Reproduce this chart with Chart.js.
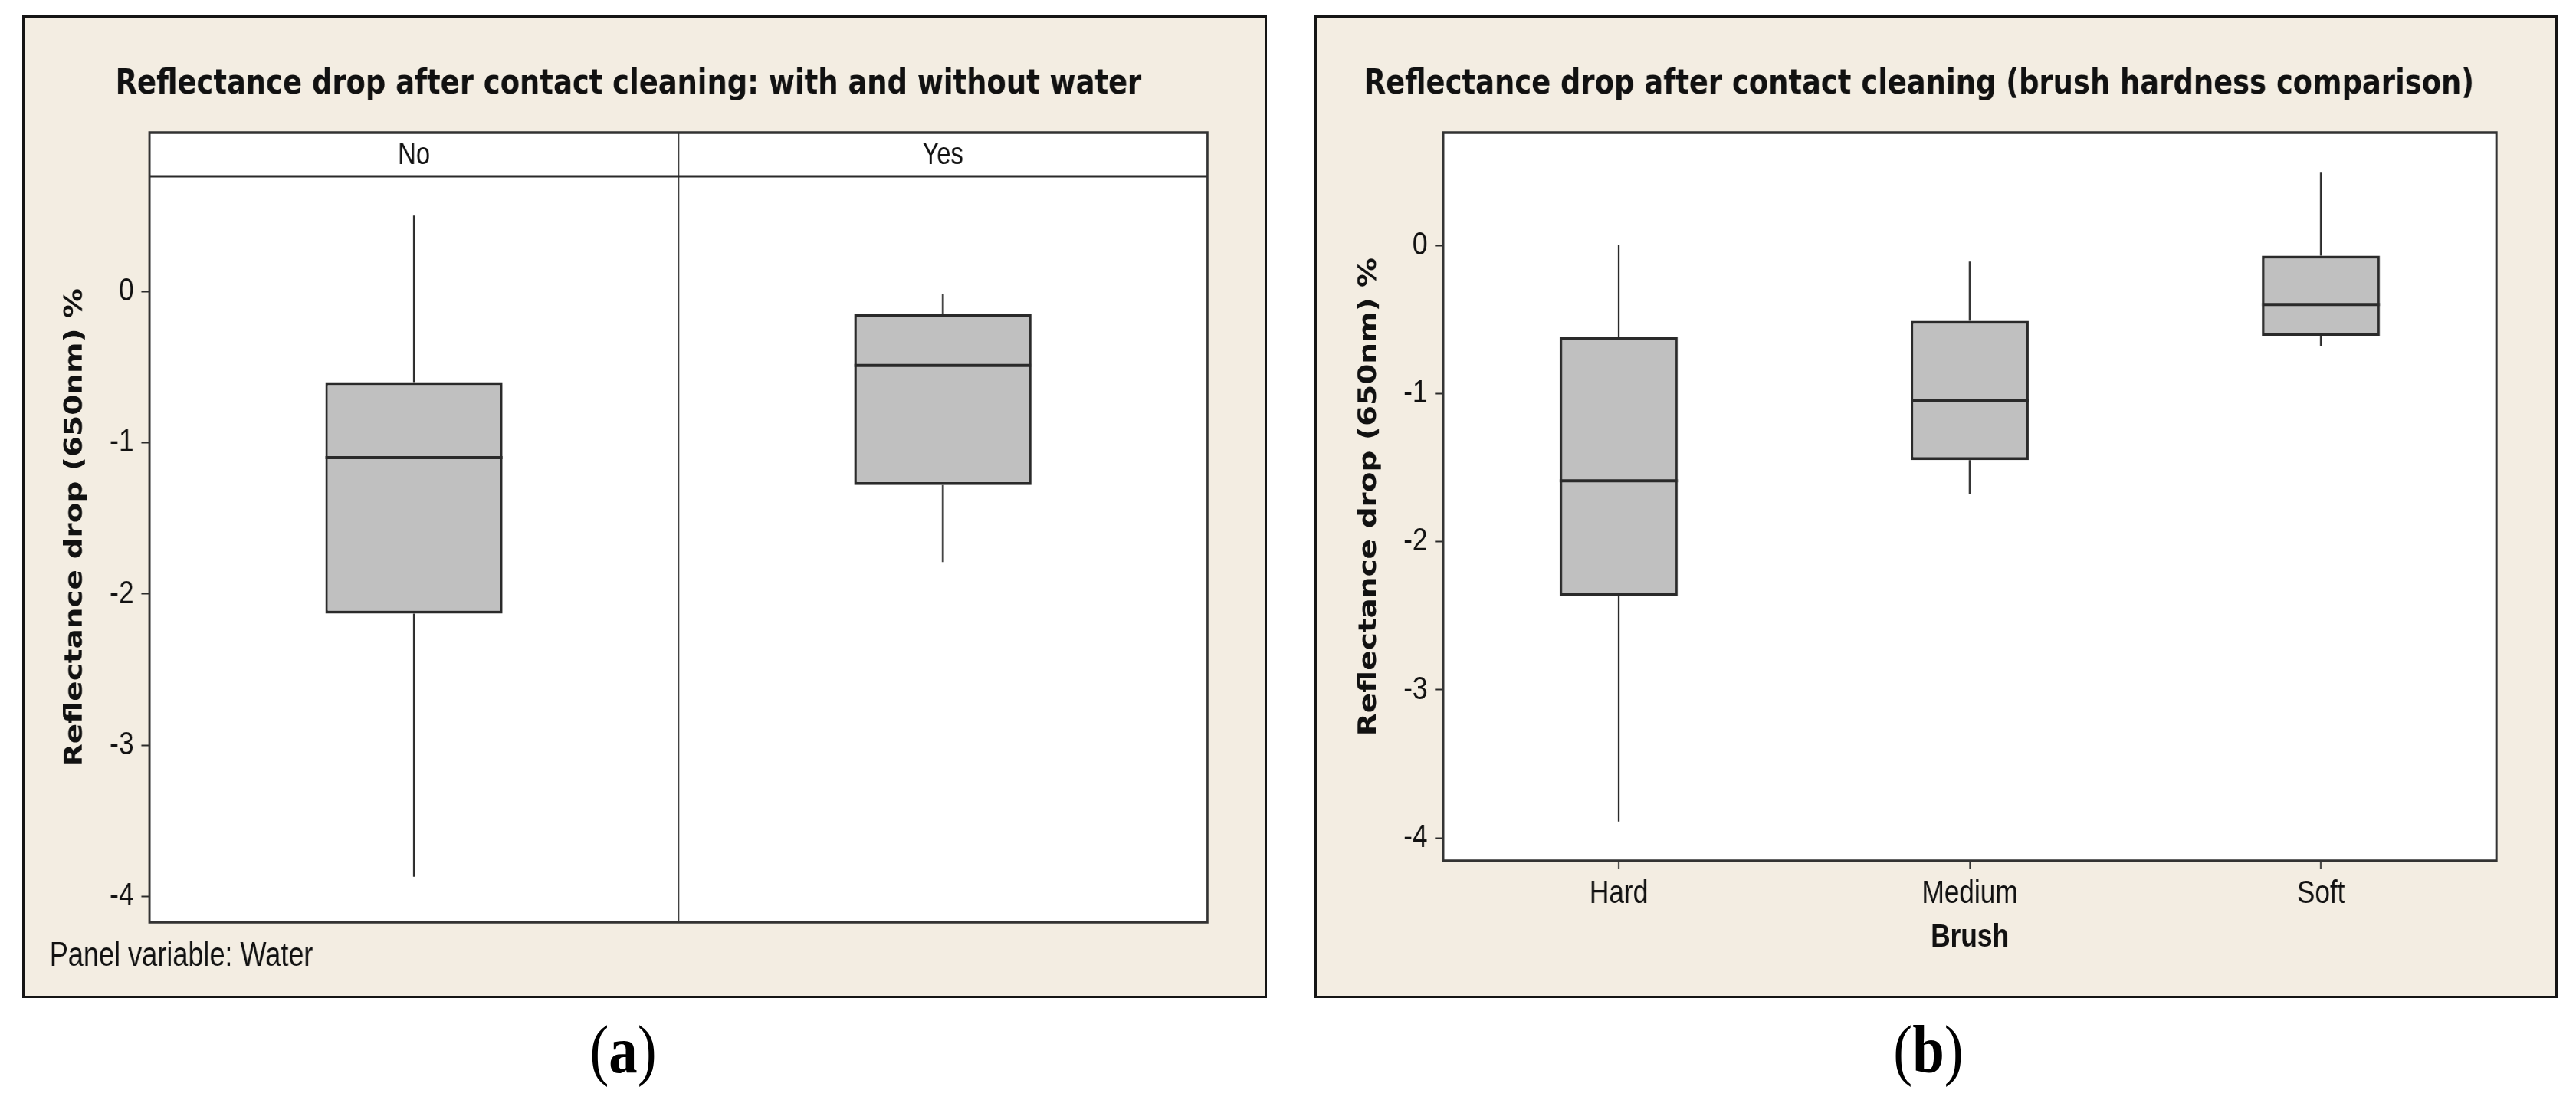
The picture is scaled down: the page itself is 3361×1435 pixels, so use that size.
<!DOCTYPE html>
<html>
<head>
<meta charset="utf-8">
<script src="https://cdn.jsdelivr.net/npm/chart.js@4.4.1/dist/chart.umd.min.js"></script>
<style>
  body { margin: 0; background: #fff; width: 3361px; height: 1435px; position: relative; overflow: hidden; }
  .frame { position: absolute; top: 20px; height: 1282px; box-sizing: border-box; border: 3px solid #151515; background: #f3ede2; }
  .wrap { position: absolute; left: 0; top: 0; transform: scaleX(0.82); transform-origin: 0 0; }
  .cap { position: absolute; top: 1326px; width: 400px; text-align: center; font-family: 'Liberation Serif', serif; font-size: 88px; line-height: 88px; color: #000; transform: scaleX(0.85); }
  .cap b { font-weight: bold; }
</style>
</head>
<body>
<div class="frame" style="left:29px;width:1624px"><div class="wrap"><canvas id="chartA" width="1973" height="1276"></canvas></div></div>
<div class="frame" style="left:1715px;width:1622px"><div class="wrap"><canvas id="chartB" width="1971" height="1276"></canvas></div></div>
<div class="cap" style="left:613px">(<b>a</b>)</div>
<div class="cap" style="left:2316px">(<b>b</b>)</div>
<script>
// panel (a): water / no water
const waterGroups = ['No', 'Yes'];
const waterMin = [-3.87, -1.79];
const waterQ1 = [-2.13, -1.28];
const waterMedian = [-1.10, -0.49];
const waterQ3 = [-0.60, -0.15];
const waterMax = [0.50, -0.02];

// panel (b): brush hardness
const brushGroups = ['Hard', 'Medium', 'Soft'];
const brushMin = [-3.89, -1.68, -0.68];
const brushQ1 = [-2.37, -1.45, -0.61];
const brushMedian = [-1.59, -1.05, -0.40];
const brushQ3 = [-0.62, -0.51, -0.07];
const brushMax = [0.00, -0.11, 0.49];

const yTicks = [-4, -3, -2, -1, 0];
const yTitle = 'Reflectance drop (650nm) %';

Chart.defaults.font.family = "'Liberation Sans', Arial, sans-serif";
Chart.defaults.color = '#111';

const ink = '#2a2a2a';

// whiskers, medians, plot frame and the panel strip
const boxPlugin = {
  id: 'boxes',
  beforeDatasetsDraw(chart) {
    const { ctx, chartArea: a } = chart;
    ctx.save();
    ctx.fillStyle = '#fff';
    ctx.fillRect(a.left, a.top, a.right - a.left, a.bottom - a.top);
    ctx.restore();
  },
  afterDatasetsDraw(chart, args, opts) {
    const { ctx, chartArea: a, scales: { x, y } } = chart;
    const meta = chart.getDatasetMeta(0);
    ctx.save();
    ctx.strokeStyle = ink;
    meta.data.forEach((bar, i) => {
      const { x: cx, width } = bar.getProps(['x', 'width'], true);
      ctx.lineWidth = 3;
      ctx.beginPath();
      ctx.moveTo(cx, y.getPixelForValue(opts.q3[i]));
      ctx.lineTo(cx, y.getPixelForValue(opts.max[i]));
      ctx.moveTo(cx, y.getPixelForValue(opts.q1[i]));
      ctx.lineTo(cx, y.getPixelForValue(opts.min[i]));
      ctx.stroke();
      const m = y.getPixelForValue(opts.median[i]);
      ctx.lineWidth = 4;
      ctx.beginPath();
      ctx.moveTo(cx - width / 2, m);
      ctx.lineTo(cx + width / 2, m);
      ctx.stroke();
    });

    if (opts.strip) {
      const sb = a.top + opts.strip;
      ctx.lineWidth = 3;
      ctx.beginPath();
      ctx.moveTo(a.left, sb);
      ctx.lineTo(a.right, sb);
      ctx.stroke();
      ctx.lineWidth = 2.5;
      for (let i = 1; i < chart.data.labels.length; i++) {
        const dx = (x.getPixelForValue(i - 1) + x.getPixelForValue(i)) / 2;
        ctx.beginPath();
        ctx.moveTo(dx, a.top);
        ctx.lineTo(dx, a.bottom);
        ctx.stroke();
      }
      ctx.fillStyle = '#111';
      ctx.font = "40px 'Liberation Sans', Arial, sans-serif";
      ctx.textAlign = 'center';
      ctx.textBaseline = 'middle';
      chart.data.labels.forEach((lab, i) => {
        ctx.fillText(lab, x.getPixelForValue(i), a.top + opts.strip / 2 + 1);
      });
    }

    ctx.strokeStyle = '#333';
    ctx.lineWidth = 3.5;
    ctx.strokeRect(a.left, a.top, a.right - a.left, a.bottom - a.top);
    ctx.restore();
  }
};

function yScale(min, max, width, titlePad) {
  return {
    min: min,
    max: max,
    afterBuildTicks: s => { s.ticks = yTicks.map(v => ({ value: v })); },
    afterFit: s => { s.width = width; },
    border: { display: false },
    grid: { drawOnChartArea: false, tickLength: 13, tickColor: ink, tickWidth: 2 },
    ticks: { padding: 12, color: '#111', font: { size: 43 } },
    title: {
      display: true,
      text: yTitle,
      color: '#111',
      font: { family: "'DejaVu Sans', Verdana, sans-serif", size: 39, weight: 'bold' },
      padding: { top: titlePad, bottom: 0 }
    }
  };
}

function titleOpts(text) {
  return {
    display: true,
    text: text,
    color: '#111',
    font: { family: "'DejaVu Sans', Verdana, sans-serif", size: 45, weight: 'bold' },
    padding: { top: 60, bottom: 36 }
  };
}

function boxDataset(q1, q3, pct) {
  return {
    data: q1.map((v, i) => [v, q3[i]]),
    backgroundColor: '#c0c0c0',
    borderColor: ink,
    borderWidth: 4,
    borderSkipped: false,
    barPercentage: pct,
    categoryPercentage: 1
  };
}

new Chart(document.getElementById('chartA'), {
  type: 'bar',
  data: {
    labels: waterGroups,
    datasets: [boxDataset(waterQ1, waterQ3, 0.335)]
  },
  options: {
    responsive: false,
    animation: false,
    devicePixelRatio: 1,
    layout: { padding: { left: 40, right: 91, top: 0, bottom: 0 } },
    scales: {
      x: { display: false },
      y: yScale(-4.17, 1.049, 158.8, 17)
    },
    plugins: {
      legend: { display: false },
      tooltip: { enabled: false },
      title: titleOpts('Reflectance drop after contact cleaning: with and without water'),
      subtitle: {
        display: true,
        position: 'bottom',
        align: 'start',
        text: 'Panel variable: Water',
        color: '#111',
        font: { size: 44 },
        padding: { top: 18.6, bottom: 24.6 }
      },
      boxes: { min: waterMin, q1: waterQ1, median: waterMedian, q3: waterQ3, max: waterMax, strip: 57 }
    }
  },
  plugins: [boxPlugin]
});

new Chart(document.getElementById('chartB'), {
  type: 'bar',
  data: {
    labels: brushGroups,
    datasets: [boxDataset(brushQ1, brushQ3, 0.336)]
  },
  options: {
    responsive: false,
    animation: false,
    devicePixelRatio: 1,
    layout: { padding: { left: 40, right: 94, top: 0, bottom: 0 } },
    scales: {
      x: {
        afterFit: s => { s.height = 176; },
        border: { display: false },
        grid: { offset: false, drawOnChartArea: false, tickLength: 11, tickColor: ink, tickWidth: 2.4 },
        ticks: { padding: 6, color: '#111', font: { size: 43 } },
        title: {
          display: true,
          text: 'Brush',
          color: '#111',
          font: { size: 43, weight: 'bold' },
          padding: { top: 0, bottom: 50 }
        }
      },
      y: yScale(-4.155, 0.761, 161.2, 20.7)
    },
    plugins: {
      legend: { display: false },
      tooltip: { enabled: false },
      title: titleOpts('Reflectance drop after contact cleaning (brush hardness comparison)'),
      boxes: { min: brushMin, q1: brushQ1, median: brushMedian, q3: brushQ3, max: brushMax, strip: 0 }
    }
  },
  plugins: [boxPlugin]
});
</script>
</body>
</html>
